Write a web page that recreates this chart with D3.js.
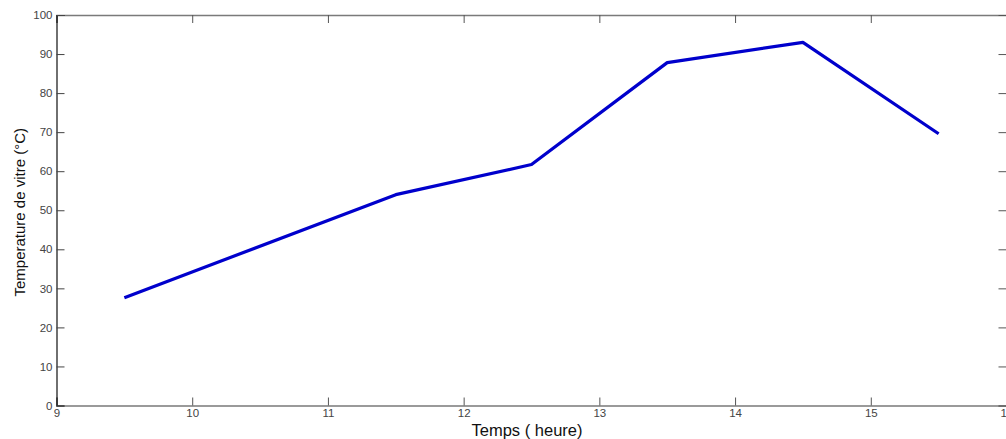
<!DOCTYPE html>
<html>
<head>
<meta charset="utf-8">
<script src="https://cdn.jsdelivr.net/npm/d3@7"></script>
<style>
  html, body { margin: 0; padding: 0; background: #fff; }
  svg { display: block; }
</style>
</head>
<body>
<svg id="chart" width="1006" height="439"></svg>
<script>
// Glass temperature over the day
const hours = [9.5, 11.5, 12.5, 13.5, 14.5, 15.5];
const temperatures = [27.6, 54.0, 61.7, 87.8, 93.0, 69.6];
const xTicks = [9, 10, 11, 12, 13, 14, 15, 16];
const yTicks = [0, 10, 20, 30, 40, 50, 60, 70, 80, 90, 100];
const xLabel = "Temps ( heure)";
const yLabel = "Temperature de vitre (°C)";

const svg = d3.select("#chart");
const plotLeft = 56.5, plotRight = 1006.5, plotTop = 15, plotBottom = 405.5;

const x = d3.scaleLinear().domain([9, 16]).range([plotLeft, plotRight]);
const y = d3.scaleLinear().domain([0, 100]).range([plotBottom, plotTop]);

const font = "Liberation Sans, Arial, sans-serif";
const tickLen = 8;

// Bottom axis with inward ticks
const xAxis = svg.append("g")
  .attr("transform", `translate(0,${plotBottom})`)
  .call(d3.axisBottom(x).tickValues(xTicks).tickSize(-tickLen).tickPadding(3).tickFormat(d3.format("d")));
xAxis.select(".domain").attr("stroke", "#7a7a7a").attr("stroke-width", 1.5);
xAxis.selectAll(".tick line").attr("stroke", "#555");
xAxis.selectAll("text").attr("font-family", font).attr("font-size", 11.5).attr("fill", "#444");

// Top axis ticks (no labels)
const xTop = svg.append("g")
  .attr("transform", `translate(0,${plotTop})`)
  .call(d3.axisTop(x).tickValues(xTicks).tickSize(-tickLen).tickFormat(""));
xTop.select(".domain").attr("stroke", "#7a7a7a").attr("stroke-width", 1.5);
xTop.selectAll(".tick line").attr("stroke", "#555");

// Left axis with inward ticks
const yAxis = svg.append("g")
  .attr("transform", `translate(${plotLeft},0)`)
  .call(d3.axisLeft(y).tickValues(yTicks).tickSize(-tickLen).tickPadding(4));
yAxis.select(".domain").attr("stroke", "#111").attr("stroke-width", 1.2);
yAxis.selectAll(".tick line").attr("stroke", "#444");
yAxis.selectAll("text").attr("font-family", font).attr("font-size", 11.5).attr("fill", "#444");

// Right axis ticks (no labels)
const yRight = svg.append("g")
  .attr("transform", `translate(${plotRight},0)`)
  .call(d3.axisRight(y).tickValues(yTicks).tickSize(-tickLen).tickFormat(""));
yRight.select(".domain").attr("stroke", "#7a7a7a");
yRight.selectAll(".tick line").attr("stroke", "#555");

// Data line
const line = d3.line()
  .x((d, i) => x(hours[i]))
  .y(d => y(d));

svg.append("path")
  .datum(temperatures)
  .attr("d", line)
  .attr("fill", "none")
  .attr("stroke", "#0000cc")
  .attr("stroke-width", 3.2)
  .attr("stroke-linejoin", "round");

// Axis titles
svg.append("text")
  .attr("x", 527)
  .attr("y", 435.5)
  .attr("text-anchor", "middle")
  .attr("font-family", font)
  .attr("font-size", 16.5)
  .attr("fill", "#111")
  .text(xLabel);

svg.append("text")
  .attr("transform", `translate(25,${(plotTop + plotBottom) / 2 + 2}) rotate(-90)`)
  .attr("text-anchor", "middle")
  .attr("font-family", font)
  .attr("font-size", 15)
  .attr("fill", "#111")
  .text(yLabel);
</script>
</body>
</html>
